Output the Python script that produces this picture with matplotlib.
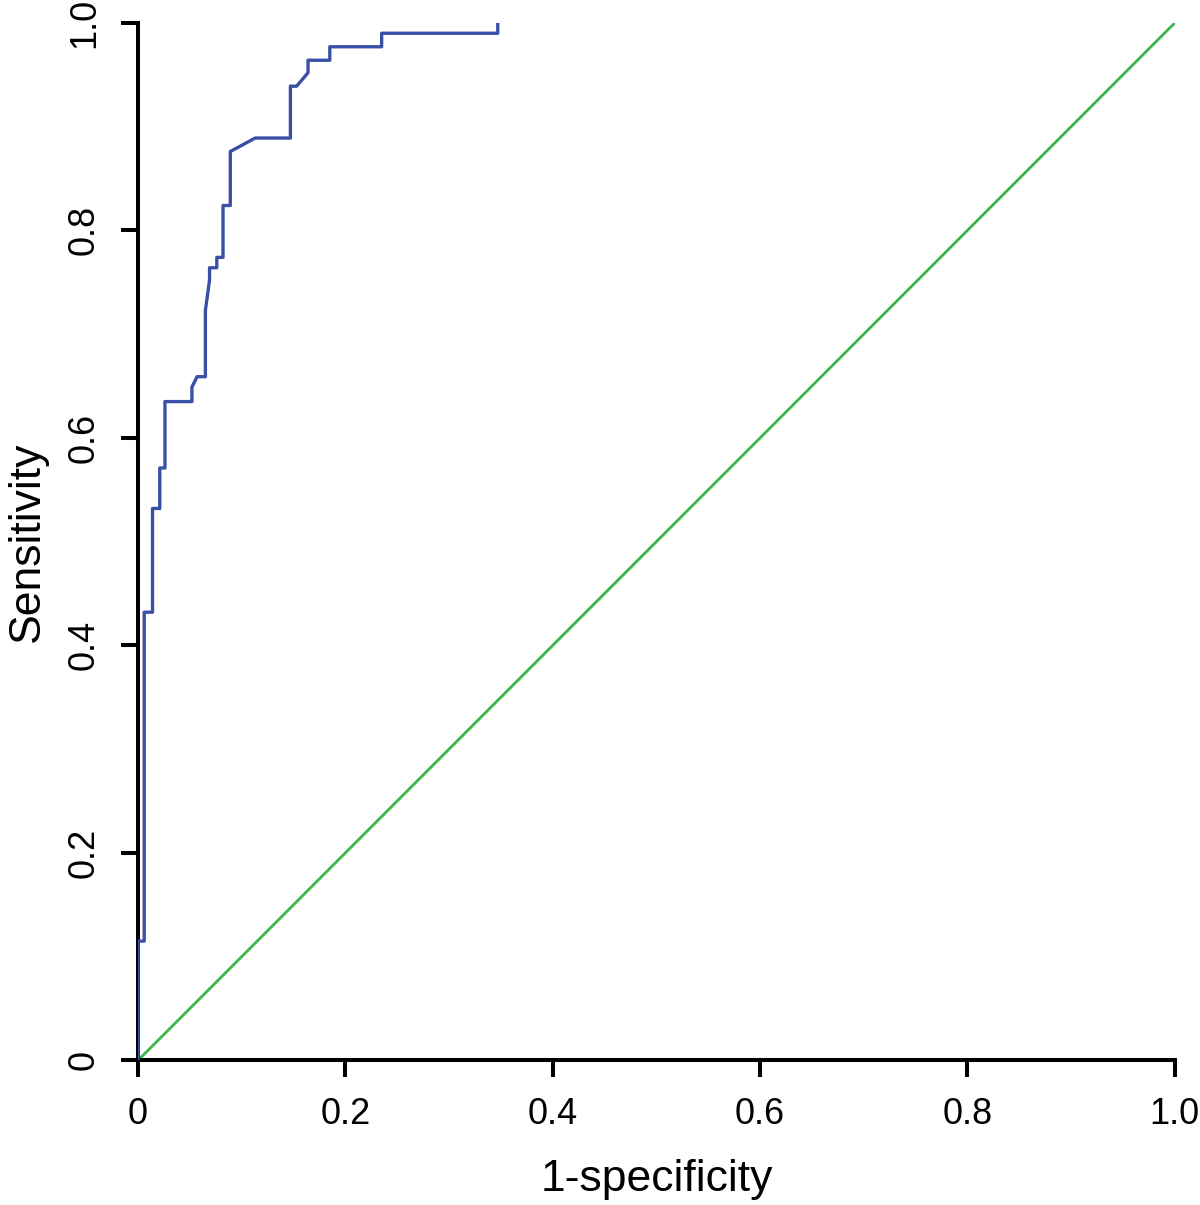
import matplotlib
matplotlib.use("Agg")
import matplotlib.pyplot as plt

plt.rcParams['font.family'] = ['Liberation Sans', 'DejaVu Sans']

# ROC curve (step points)
fpr = [0.0, 0.0, 0.006, 0.006, 0.014, 0.014, 0.021, 0.021, 0.026, 0.026,
       0.052, 0.052, 0.057, 0.065, 0.065, 0.069, 0.069, 0.076, 0.076, 0.082,
       0.082, 0.089, 0.089, 0.113, 0.147, 0.147, 0.153, 0.164, 0.164, 0.185,
       0.185, 0.235, 0.235, 0.347, 0.347]
tpr = [0.0, 0.115, 0.115, 0.432, 0.432, 0.532, 0.532, 0.571, 0.571, 0.635,
       0.635, 0.649, 0.659, 0.659, 0.723, 0.752, 0.764, 0.764, 0.774, 0.774,
       0.824, 0.824, 0.876, 0.889, 0.889, 0.939, 0.939, 0.952, 0.964, 0.964,
       0.977, 0.977, 0.990, 0.990, 1.0]
diag = [0, 1]
ticks = [0, 0.2, 0.4, 0.6, 0.8, 1.0]
ticklabels = ['0', '0.2', '0.4', '0.6', '0.8', '1.0']

fig = plt.figure(figsize=(12, 12.05), dpi=100)
ax = fig.add_axes([0.115, 0.12, 0.864, 0.861])

ax.plot(diag, diag, color='#3cb44a', linewidth=2.0, zorder=2)
ax.plot(fpr, tpr, color='#3a4fa6', linewidth=2.4, zorder=3)

ax.set_xlim(0, 1)
ax.set_ylim(0, 1)
ax.set_xticks(ticks)
ax.set_xticklabels(ticklabels)
ax.set_yticks(ticks)
ax.set_yticklabels(ticklabels, rotation=90, va='center')
ax.spines['top'].set_visible(False)
ax.spines['right'].set_visible(False)
for s in ['left', 'bottom']:
    ax.spines[s].set_linewidth(2.9)
ax.tick_params(direction='out', length=12, width=2.9, labelsize=26, pad=14)
ax.tick_params(axis='y', pad=14)

ax.set_xlabel('1-specificity', fontsize=32, labelpad=20)
ax.set_ylabel('Sensitivity', fontsize=32, labelpad=14)

fig.savefig('out.png', dpi=100)
